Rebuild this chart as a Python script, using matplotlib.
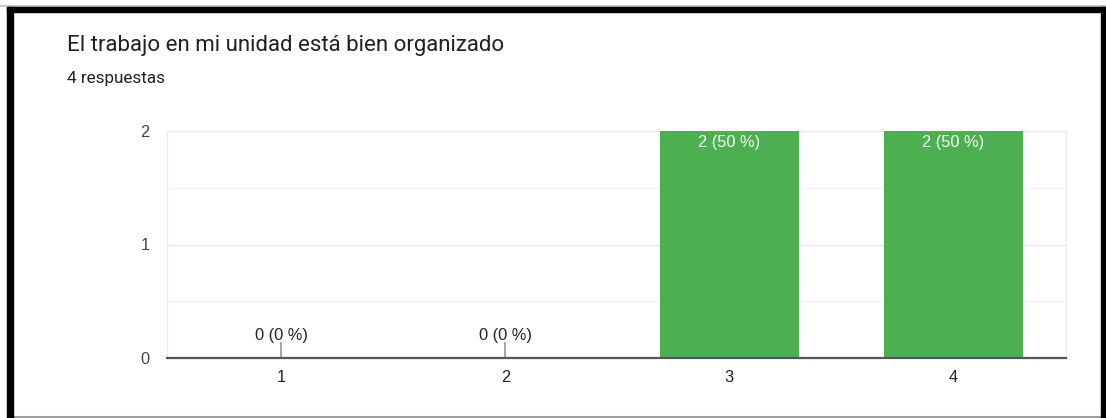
import matplotlib
matplotlib.use("Agg")
import matplotlib.pyplot as plt
from matplotlib.patches import Rectangle
from matplotlib.lines import Line2D

title = "El trabajo en mi unidad está bien organizado"
subtitle = "4 respuestas"
categories = ["1", "2", "3", "4"]
counts = [0, 0, 2, 2]
total = sum(counts)

W, H = 1106, 418
fig = plt.figure(figsize=(W / 100, H / 100), dpi=100)
fig.patch.set_facecolor("white")

# Frame around the card
fig.add_artist(Line2D([0, W], [H - 5.5, H - 5.5], transform=None, color="#bdbdbd", lw=1.2))
fig.add_artist(Rectangle((7, H - 12), W - 7, 5, transform=None, color="black", zorder=5))
fig.add_artist(Rectangle((7, 0), 6, H - 7, transform=None, color="black", zorder=5))
fig.add_artist(Rectangle((1101, 0), 5, H - 7, transform=None, color="black", zorder=5))
fig.add_artist(Line2D([13, 1101], [1, 1], transform=None, color="#9e9e9e", lw=1.5))

fig.text(67 / W, 1 - 45 / H, title, fontsize=16, family="Roboto",
         color="#202124", va="center", ha="left")
fig.text(67 / W, 1 - 79 / H, subtitle, fontsize=12.3, family="Roboto",
         color="#202124", va="center", ha="left")

left, right, top, bottom = 167, 1066, 131, 358
ax = fig.add_axes([left / W, 1 - bottom / H, (right - left) / W, (bottom - top) / H])
ax.set_xlim(0.49, 4.503)
ax.set_ylim(0, 2)

x = list(range(1, len(categories) + 1))
ax.bar(x, counts, width=0.62, color="#4caf50", zorder=3)

fs = 11.8
for xi, c in zip(x, counts):
    label = f"{c} ({round(100 * c / total)} %)"
    if c > 0:
        ax.text(xi, c - 0.1, label, ha="center", va="center", color="white",
                fontsize=fs, family="Liberation Sans", zorder=4)
    else:
        ax.plot([xi, xi], [0, 0.13], color="#9e9e9e", lw=1.3, zorder=3)
        ax.text(xi, 0.2, label, ha="center", va="center", color="#222222",
                fontsize=fs, family="Liberation Sans", zorder=4)

ax.set_xticks(x)
ax.set_xticklabels(categories, family="Liberation Sans", fontsize=fs, color="#222222")
ax.set_yticks([0, 1, 2])
ax.set_yticklabels(["0", "1", "2"], family="Liberation Sans", fontsize=fs, color="#444444")
ax.set_yticks([0.5, 1.5], minor=True)
ax.tick_params(axis="both", which="both", length=0)
ax.tick_params(axis="y", pad=12.5)
ax.tick_params(axis="x", pad=8.5)
ax.grid(axis="y", which="major", color="#e6e6e6", lw=1, zorder=0)
ax.grid(axis="y", which="minor", color="#f2f2f2", lw=1, zorder=0)
for side in ["left", "right", "top"]:
    ax.spines[side].set_color("#ececec")
    ax.spines[side].set_linewidth(1)
ax.spines["bottom"].set_color("#555555")
ax.spines["bottom"].set_linewidth(1.6)
ax.spines["bottom"].set_zorder(5)

fig.savefig("out.png", dpi=100, facecolor="white")
